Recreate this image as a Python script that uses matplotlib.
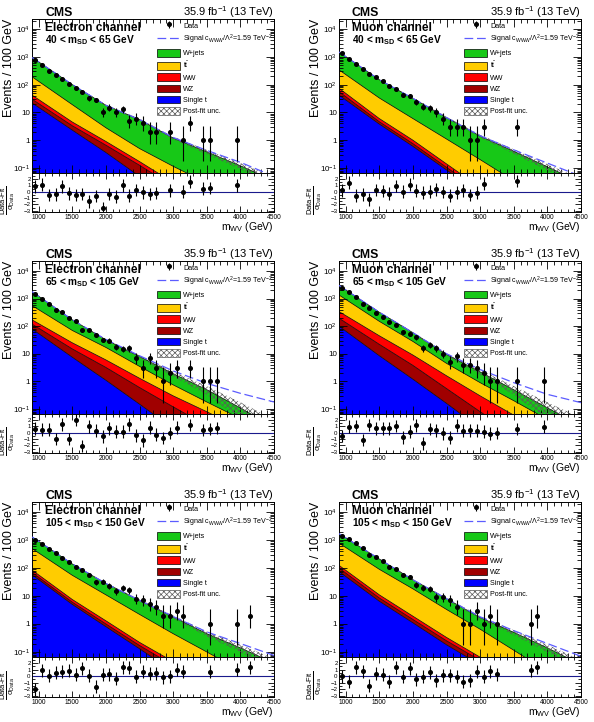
import numpy as np
import matplotlib
matplotlib.use('Agg')
import matplotlib.pyplot as plt
from matplotlib.patches import Patch
from matplotlib.lines import Line2D
from matplotlib.ticker import FixedLocator, MultipleLocator, LogLocator, NullFormatter

plt.rcParams['font.family'] = ['Liberation Sans', 'DejaVu Sans']
plt.rcParams['mathtext.fontset'] = 'custom'
plt.rcParams['mathtext.rm'] = 'Liberation Sans'
plt.rcParams['mathtext.it'] = 'Liberation Sans:italic'
plt.rcParams['mathtext.bf'] = 'Liberation Sans:bold'
plt.rcParams['mathtext.default'] = 'regular'
plt.rcParams['hatch.linewidth'] = 0.5

grid = [900, 1500, 2000, 2500, 3000, 3500, 4000, 4500]
# data bins: 100 GeV wide, first centre at 950
first_bin = 950
bin_width = 100

# ---- Electron, 40 < mSD < 65 ----
e1_total = [950, 100, 18, 5.5, 1.2, 0.38, 0.12, 0.035]
e1_signal = [950, 100, 18, 5.5, 1.25, 0.43, 0.16, 0.05]
e1_ttbar = [192, 19, 2.8, 0.5, 0.115, 0.029, 0.007, 0.0017]
e1_ww = [42, 4.5, 0.9, 0.17, 0.03, 0.006, 0.001, 0.0002]
e1_wz = [30, 3.3, 0.66, 0.125, 0.022, 0.004, 0.0008, 0.00015]
e1_st = [22, 2.3, 0.36, 0.05, 0.007, 0.001, 0.00015, 0.00002]
e1_unc = [0.02, 0.03, 0.05, 0.08, 0.12, 0.18, 0.25, 0.35]
e1_counts = [800, 500, 320, 215, 165, 105, 74, 56, 32, 28, 10, 15, 10, 13, 5, 6,
             4, 2, 2, 0, 2, 0, 1, 4, 0, 1, 1, 0, 0, 0, 1]
e1_pulls = [0.85, 1.1, -0.5, -0.4, 0.85, -0.25, -0.5, -0.35, -1.5, -0.7, -2.6,
            -0.35, -0.8, 1.0, -0.6, 0.25, -0.1, -0.35, -0.2, None, 0.2, None,
            0.0, 1.6, None, 0.5, 0.6, None, None, None, 1.0]

# ---- Muon, 40 < mSD < 65 ----
m1_total = [1500, 150, 32, 6.5, 1.4, 0.4, 0.11, 0.03]
m1_signal = [1500, 150, 32, 6.5, 1.45, 0.45, 0.15, 0.05]
m1_ttbar = [340, 33, 6, 1.1, 0.2, 0.035, 0.006, 0.001]
m1_ww = [74, 6, 1.0, 0.14, 0.02, 0.003, 0.0005, 0.0001]
m1_wz = [56, 4.6, 0.75, 0.105, 0.015, 0.002, 0.0003, 0.00005]
m1_st = [42, 3.8, 0.6, 0.085, 0.012, 0.0016, 0.0002, 0.00003]
m1_unc = [0.02, 0.03, 0.05, 0.08, 0.12, 0.18, 0.25, 0.35]
m1_counts = [1350, 820, 540, 370, 245, 185, 130, 90, 70, 42, 40, 24, 16, 14, 10,
             6, 3, 3, 3, 1, 1, 3, 0, 0, 0, 0, 3]
m1_pulls = [0.2, 1.45, -0.6, -0.4, -1.2, 0.25, 0.1, -0.3, 0.9, 0.0, 1.1, 0.15,
            -0.15, 0.0, 0.35, -0.05, -0.6, -0.1, 0.2, -0.5, -0.15, 1.25, None,
            None, None, None, 1.7]

# ---- Electron, 65 < mSD < 105 ----
e2_total = [1800, 170, 32, 8, 1.9, 0.5, 0.11, 0.022]
e2_signal = [1800, 170, 33, 8.5, 2.4, 0.85, 0.37, 0.18]
e2_ttbar = [560, 70, 17, 3.5, 0.75, 0.18, 0.045, 0.01]
e2_ww = [170, 25, 6, 1.3, 0.3, 0.08, 0.02, 0.005]
e2_wz = [120, 15, 3.2, 0.6, 0.12, 0.025, 0.005, 0.001]
e2_st = [80, 7.5, 1.1, 0.15, 0.02, 0.003, 0.0004, 0.00005]
e2_unc = [0.02, 0.03, 0.05, 0.1, 0.2, 0.35, 0.6, 0.9]
e2_counts = [1470, 1000, 650, 400, 330, 205, 150, 72, 72, 49, 32, 30, 18, 15, 16,
             7, 3, 7, 3, 1, 2, 3, 0, 3, 0, 1, 1, 1]
e2_pulls = [0.65, 0.5, 0.5, -1.0, 1.3, -1.0, 2.05, -2.1, 1.0, 0.3, -0.55, 0.7,
            0.15, 0.15, 1.3, -0.4, -1.2, 0.8, -0.3, -0.85, -0.05, 0.8, None,
            1.2, None, 0.45, 0.6, 0.75]

# ---- Muon, 65 < mSD < 105 ----
m2_total = [3000, 320, 58, 9.5, 2.2, 0.5, 0.11, 0.025]
m2_signal = [3000, 320, 58, 10, 2.7, 0.9, 0.34, 0.17]
m2_ttbar = [1350, 150, 28, 4.5, 0.9, 0.2, 0.042, 0.009]
m2_ww = [340, 45, 9, 1.6, 0.3, 0.06, 0.012, 0.0025]
m2_wz = [195, 22, 3.8, 0.55, 0.08, 0.012, 0.002, 0.0003]
m2_st = [100, 8.5, 1.2, 0.16, 0.02, 0.0025, 0.0003, 0.00004]
m2_unc = [0.02, 0.03, 0.05, 0.1, 0.2, 0.35, 0.6, 0.9]
m2_counts = [2370, 1780, 1180, 630, 470, 310, 213, 145, 110, 61, 52, 39, 16, 21,
             16, 10, 5, 8, 4, 4, 3, 2, 1, 1, 0, 0, 1, 0, 0, 0, 1]
m2_pulls = [-0.5, 0.95, 1.05, -1.15, 1.2, 0.7, 0.7, 0.7, 1.05, -0.75, 0.15, 1.15,
            -1.7, 0.6, 0.4, -0.1, -0.8, 1.1, 0.3, 0.4, 0.3, 0.15, -0.15, -0.05,
            None, None, 0.6, None, None, None, 0.95]

# ---- Electron, 105 < mSD < 150 ----
e3_total = [1300, 140, 28, 7, 1.8, 0.45, 0.14, 0.04]
e3_signal = [1300, 140, 28, 7, 1.85, 0.52, 0.2, 0.075]
e3_ttbar = [500, 55, 11, 2.2, 0.45, 0.1, 0.022, 0.005]
e3_ww = [85, 7.5, 1.3, 0.22, 0.045, 0.008, 0.0015, 0.0003]
e3_wz = [70, 6, 1.0, 0.17, 0.033, 0.006, 0.001, 0.0002]
e3_st = [58, 5, 0.8, 0.13, 0.02, 0.003, 0.0005, 0.00008]
e3_unc = [0.02, 0.03, 0.05, 0.08, 0.12, 0.2, 0.3, 0.45]
e3_counts = [1000, 740, 480, 335, 225, 170, 110, 88, 58, 31, 33, 23, 15, 19, 16,
             8, 7, 5, 4, 2, 2, 3, 2, 0, 0, 0, 1, 0, 0, 0, 1, 0, 2]
e3_pulls = [-2.0, 0.9, 0.05, 0.5, 0.65, 0.85, 0.25, 1.25, 0.05, -1.65, 0.25, 0.3,
            -0.4, 1.4, 1.3, -0.05, 0.65, 0.4, 0.45, -0.2, 0.0, 1.0, 0.65, None,
            None, None, 0.7, None, None, None, 1.0, None, 1.4]

# ---- Muon, 105 < mSD < 150 ----
m3_total = [1700, 210, 38, 8, 1.7, 0.5, 0.14, 0.035]
m3_signal = [1700, 210, 38, 8, 1.8, 0.58, 0.2, 0.07]
m3_ttbar = [780, 90, 18, 3.3, 0.65, 0.115, 0.02, 0.004]
m3_ww = [125, 11, 1.9, 0.33, 0.065, 0.012, 0.002, 0.0004]
m3_wz = [100, 8.5, 1.45, 0.25, 0.05, 0.009, 0.0015, 0.0003]
m3_st = [75, 6.5, 1.1, 0.18, 0.035, 0.006, 0.001, 0.0002]
m3_unc = [0.02, 0.03, 0.05, 0.08, 0.12, 0.2, 0.3, 0.45]
m3_counts = [1350, 1100, 780, 520, 305, 245, 180, 105, 92, 58, 48, 25, 20, 18, 9,
             9, 7, 4, 1, 1, 3, 1, 2, 1, 0, 0, 0, 0, 1, 2]
m3_pulls = [0.0, -0.85, 1.4, 0.75, -1.45, 0.4, 0.25, -0.85, 1.4, -0.1, 1.25, -0.5,
            -0.1, 0.6, -0.6, 0.15, 0.15, -0.1, -0.85, -0.6, 0.65, -0.1, 0.75, 0.3,
            None, None, None, None, 0.9, 1.4]

col_wjets = '#17c817'
col_tt = '#ffcc00'
col_ww = '#ff0000'
col_wz = '#a00000'
col_st = '#0000ff'
col_sig = '#5c5cff'

W = 242 / 594
LEFT = [32 / 594, 339 / 594]
ROWS = [(19, 173, 212), (261, 414, 453), (502, 657, 697)]

fig = plt.figure(figsize=(5.94, 7.22), dpi=100)


def poisson_err(n):
    # Gehrels approximation of the Garwood interval
    n = np.asarray(n, float)
    lo = n * (1 - 1 / (9 * n) - 1 / (3 * np.sqrt(n))) ** 3
    hi = n + np.sqrt(n + 0.75) + 1
    return n - lo, hi - n


def style(ax, size):
    ax.tick_params(which='both', direction='in', top=True, right=True,
                   labelsize=size, width=0.6, pad=1.5)
    for s in ax.spines.values():
        s.set_linewidth(0.7)


def draw(col, row, channel, window, total, signal, ttbar, ww, wz, st, unc, counts, pulls):
    top, mid, bot = ROWS[row]
    ax = fig.add_axes([LEFT[col], 1 - mid / 722, W, (mid - top) / 722])
    rx = fig.add_axes([LEFT[col], 1 - bot / 722, W, (bot - mid) / 722])

    x = np.array(grid, float)
    lower = np.full(len(x), 1e-6)
    for vals, c in [(st, col_st), (wz, col_wz), (ww, col_ww), (ttbar, col_tt), (total, col_wjets)]:
        vals = np.array(vals, float)
        ax.fill_between(x, lower, vals, facecolor=c, edgecolor='none', zorder=1)
        ax.plot(x, vals, color='k', lw=0.5, zorder=2)
        lower = vals
    tot = np.array(total, float)
    u = np.array(unc, float)
    ax.fill_between(x, np.maximum(tot * (1 - u), 1e-6), tot * (1 + u), facecolor='none',
                    edgecolor='0.35', hatch='xxxxxx', lw=0, zorder=3)
    ax.plot(x, signal, color=col_sig, lw=0.9, ls=(0, (7, 3)), zorder=4)

    n = np.array(counts, float)
    centres = first_bin + bin_width * np.arange(len(n))
    keep = n > 0
    lo, hi = poisson_err(n[keep])
    data = ax.errorbar(centres[keep], n[keep], yerr=[lo, hi], fmt='o', ms=2.6,
                       color='k', elinewidth=0.8, capsize=0, zorder=5)

    p = np.array([np.nan if v is None else v for v in pulls], float)
    pk = ~np.isnan(p)
    rx.errorbar(centres[pk], p[pk], yerr=1.0, fmt='o', ms=2.6, color='k',
                elinewidth=0.8, capsize=0, zorder=5)
    rx.axhline(0, color='#1a1a8c', lw=0.8, zorder=2)

    ax.set_yscale('log')
    ax.set_xlim(900, 4500)
    ax.set_ylim(0.066, 2.3e4)
    ax.yaxis.set_major_locator(FixedLocator([0.1, 1, 10, 100, 1e3, 1e4]))
    ax.set_yticklabels(['$10^{-1}$', '1', '10', '$10^{2}$', '$10^{3}$', '$10^{4}$'])
    ax.yaxis.set_minor_locator(LogLocator(subs=np.arange(2, 10), numticks=20))
    ax.yaxis.set_minor_formatter(NullFormatter())
    ax.xaxis.set_major_locator(MultipleLocator(500))
    ax.xaxis.set_minor_locator(MultipleLocator(100))
    ax.tick_params(labelbottom=False)
    style(ax, 5.8)
    ax.tick_params(which='major', length=6)
    ax.tick_params(which='minor', length=3)

    rx.set_xlim(900, 4500)
    rx.set_ylim(-3.2, 2.95)
    rx.yaxis.set_major_locator(FixedLocator([-3, -2, -1, 0, 1, 2]))
    rx.yaxis.set_minor_locator(MultipleLocator(0.5))
    rx.xaxis.set_major_locator(MultipleLocator(500))
    rx.xaxis.set_minor_locator(MultipleLocator(100))
    style(rx, 4.8)
    rx.tick_params(which='major', length=4)
    rx.tick_params(which='minor', length=2)
    rx.tick_params(axis='y', labelsize=4.4, pad=1)

    ax.set_ylabel('Events / 100 GeV', fontsize=9, loc='top')
    ax.yaxis.set_label_coords(-17 / 242, 1.0)
    rx.set_ylabel(r'$\frac{\text{Data-Fit}}{\sigma_{Data}}$', fontsize=7.8)
    rx.yaxis.set_label_coords(-15 / 242, 0.3)
    rx.set_xlabel(r'$m_{WV}$ (GeV)', fontsize=7.5, loc='right')
    rx.xaxis.set_label_coords(1.0, -0.2)

    ax.text(13 / 242, 1.02, 'CMS', transform=ax.transAxes, fontsize=8.8,
            fontweight='bold', va='baseline', ha='left')
    ax.text(1.0, 1.02, r'35.9 fb$^{-1}$ (13 TeV)', transform=ax.transAxes,
            fontsize=8, va='baseline', ha='right')
    ax.text(13 / 242, 0.924, channel, transform=ax.transAxes, fontsize=8.6,
            fontweight='bold', va='baseline', ha='left')
    ax.text(13 / 242, 0.844, window, transform=ax.transAxes, fontsize=7.3,
            fontweight='bold', va='baseline', ha='left')

    handles = [data,
               Line2D([], [], color=col_sig, lw=0.9, ls=(0, (7, 3))),
               Patch(facecolor=col_wjets, edgecolor='k', lw=0.5),
               Patch(facecolor=col_tt, edgecolor='k', lw=0.5),
               Patch(facecolor=col_ww, edgecolor='k', lw=0.5),
               Patch(facecolor=col_wz, edgecolor='k', lw=0.5),
               Patch(facecolor=col_st, edgecolor='k', lw=0.5),
               Patch(facecolor='white', edgecolor='0.35', hatch='xxxxxx', lw=0.5)]
    labels = ['Data', r'Signal c$_{WWW}$/$\Lambda^{2}$=1.59 TeV$^{-2}$', 'W+jets',
              r't$\bar{t}$', 'WW', 'WZ', 'Single t', 'Post-fit unc.']
    ax.legend(handles, labels, loc='upper left', bbox_to_anchor=(0.517, 0.985),
              frameon=False, fontsize=5.1, handlelength=3.3, handleheight=1.3,
              labelspacing=0.42, handletextpad=0.35, borderpad=0, borderaxespad=0)


draw(0, 0, 'Electron channel', r'40 < m$_{SD}$ < 65 GeV', e1_total, e1_signal,
     e1_ttbar, e1_ww, e1_wz, e1_st, e1_unc, e1_counts, e1_pulls)
draw(1, 0, 'Muon channel', r'40 < m$_{SD}$ < 65 GeV', m1_total, m1_signal,
     m1_ttbar, m1_ww, m1_wz, m1_st, m1_unc, m1_counts, m1_pulls)
draw(0, 1, 'Electron channel', r'65 < m$_{SD}$ < 105 GeV', e2_total, e2_signal,
     e2_ttbar, e2_ww, e2_wz, e2_st, e2_unc, e2_counts, e2_pulls)
draw(1, 1, 'Muon channel', r'65 < m$_{SD}$ < 105 GeV', m2_total, m2_signal,
     m2_ttbar, m2_ww, m2_wz, m2_st, m2_unc, m2_counts, m2_pulls)
draw(0, 2, 'Electron channel', r'105 < m$_{SD}$ < 150 GeV', e3_total, e3_signal,
     e3_ttbar, e3_ww, e3_wz, e3_st, e3_unc, e3_counts, e3_pulls)
draw(1, 2, 'Muon channel', r'105 < m$_{SD}$ < 150 GeV', m3_total, m3_signal,
     m3_ttbar, m3_ww, m3_wz, m3_st, m3_unc, m3_counts, m3_pulls)

fig.savefig('out.png', dpi=100)
